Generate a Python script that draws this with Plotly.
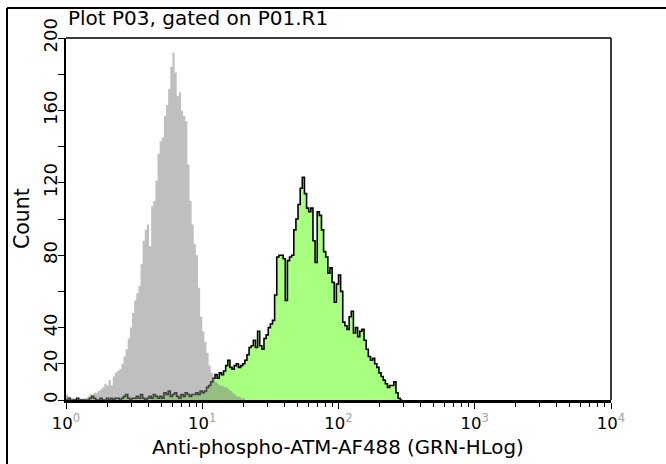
import numpy as np
import plotly.graph_objects as go

# Instrument channel scale: 64 channels per decade over 4 decades (GRN-HLog)
CHANNELS_PER_DECADE = 64

# Control (gray) histogram counts, channel 0 upward
gray_counts = [
    3, 2, 1, 1, 0, 1, 1, 0, 1, 1,
    2, 3, 3, 4, 4, 5, 6, 7, 9, 8,
    11, 8, 13, 15, 16, 17, 20, 24, 28, 34,
    40, 48, 55, 59, 63, 75, 88, 94, 97, 85,
    107, 110, 121, 136, 143, 145, 157, 163, 172, 184,
    192, 181, 168, 170, 160, 157, 154, 130, 110, 97,
    86, 80, 62, 46, 38, 32, 26, 19, 15, 12,
    10, 9, 8, 8, 7, 7, 6, 5, 4, 3,
    2, 2, 1, 1,
]

# Anti-phospho-ATM-AF488 (green) histogram counts, channel 0 upward
green_counts = [
    0, 1, 0, 0, 0, 1, 0, 0, 0, 0,
    0, 1, 2, 1, 0, 0, 1, 0, 0, 1,
    0, 1, 0, 1, 1, 0, 1, 2, 3, 1,
    0, 1, 1, 2, 1, 3, 1, 0, 1, 2,
    1, 3, 2, 1, 2, 1, 4, 3, 5, 2,
    3, 4, 2, 1, 3, 2, 4, 3, 2, 3,
    3, 4, 3, 5, 4, 5, 7, 8, 10, 12,
    14, 12, 15, 14, 16, 19, 22, 18, 17, 19,
    20, 18, 19, 20, 22, 25, 29, 30, 33, 29,
    38, 30, 28, 34, 36, 40, 42, 44, 58, 79,
    80, 80, 78, 55, 77, 79, 80, 94, 100, 108,
    117, 123, 114, 106, 104, 106, 88, 76, 104, 102,
    94, 82, 79, 70, 73, 65, 54, 64, 69, 60,
    43, 41, 39, 46, 49, 37, 40, 35, 38, 39,
    33, 28, 24, 22, 23, 20, 18, 15, 13, 11,
    9, 7, 8, 8, 10, 4, 1, 0,
]

x_tick_values = [1, 10, 100, 1000, 10000]
x_tick_exponents = ["0", "1", "2", "3", "4"]
y_tick_values = [0, 20, 40, 60, 80, 100, 120, 140, 160, 180, 200]
y_tick_labels = ["0", "20", "40", "", "80", "", "120", "", "160", "", "200"]

title_text = "Plot P03, gated on P01.R1"
x_title = "Anti-phospho-ATM-AF488 (GRN-HLog)"
y_title = "Count"


def hist_xy(counts):
    edges = 10 ** (np.arange(len(counts) + 1) / CHANNELS_PER_DECADE)
    xs = list(edges)
    ys = list(counts) + [0]
    return xs, ys


gx, gy = hist_xy(gray_counts)
ax, ay = hist_xy(green_counts)

fig = go.Figure()
fig.add_trace(go.Scatter(
    x=ax, y=ay, mode="lines", line_shape="hv",
    line=dict(color="black", width=1.6),
    fill="tozeroy", fillcolor="#a8ff80", hoverinfo="skip", showlegend=False,
))
fig.add_trace(go.Scatter(
    x=gx, y=gy, mode="lines", line_shape="hv",
    line=dict(color="rgba(0,0,0,0)", width=0),
    fill="tozeroy", fillcolor="rgba(128,128,128,0.5)", hoverinfo="skip", showlegend=False,
))

FONT = "DejaVu Sans"
minor_vals = []
for d in [1, 10, 100, 1000]:
    for m in range(2, 10):
        minor_vals.append(m * d)

fig.update_layout(
    width=666, height=464,
    margin=dict(l=66, r=55, t=38, b=64, autoexpand=False),
    paper_bgcolor="white", plot_bgcolor="white",
    font=dict(family=FONT, size=16, color="black"),
    xaxis=dict(
        type="log", range=[0, 4], automargin=False,
        tickvals=x_tick_values,
        ticktext=["10<sup><span style='color:#a0a0a0'>%s</span></sup>" % e for e in x_tick_exponents],
        ticks="outside", ticklen=6, tickwidth=1, tickcolor="black",
        minor=dict(tickvals=minor_vals, ticks="outside", ticklen=4, tickwidth=1, tickcolor="black"),
        showline=True, linecolor="black", linewidth=2.5, mirror=False,
        showgrid=False, zeroline=False,
        tickfont=dict(family=FONT, size=16.5),
    ),
    yaxis=dict(
        range=[0, 200], automargin=False,
        tickvals=y_tick_values, ticktext=y_tick_labels, tickangle=-90,
        ticks="outside", ticklen=6, tickwidth=1, tickcolor="black",
        ticklabelstandoff=-6,
        showline=True, linecolor="black", linewidth=2, mirror=False,
        showgrid=False, zeroline=False,
        tickfont=dict(family=FONT, size=18),
    ),
    shapes=[
        dict(type="line", xref="paper", yref="paper", x0=0, x1=1, y0=1, y1=1,
             line=dict(color="#3a3a3a", width=2)),
        dict(type="line", xref="paper", yref="paper", x0=1, x1=1, y0=0, y1=1,
             line=dict(color="#3a3a3a", width=2)),
        dict(type="line", xref="paper", yref="paper", x0=(7 - 66) / 545, x1=1.2,
             y0=(400 - 8) / 362, y1=(400 - 8) / 362, line=dict(color="black", width=2)),
        dict(type="line", xref="paper", yref="paper", x0=(7 - 66) / 545, x1=(7 - 66) / 545,
             y0=(400 - 8) / 362, y1=-0.3, line=dict(color="black", width=2)),
    ],
    annotations=[
        dict(text=title_text, xref="paper", yref="paper", x=0.0, y=(400 - 18) / 362,
             xanchor="left", yanchor="middle", showarrow=False,
             font=dict(family=FONT, size=20, color="black")),
        dict(text=y_title, xref="paper", yref="paper", x=(22 - 66) / 545, y=(400 - 219) / 362,
             xanchor="center", yanchor="middle", textangle=-90, showarrow=False,
             font=dict(family=FONT, size=20.5, color="black")),
        dict(text=x_title, xref="paper", yref="paper", x=(338 - 66) / 545, y=(400 - 447) / 362,
             xanchor="center", yanchor="middle", showarrow=False,
             font=dict(family=FONT, size=19.8, color="black")),
    ],
)

fig.write_html("out.html")
